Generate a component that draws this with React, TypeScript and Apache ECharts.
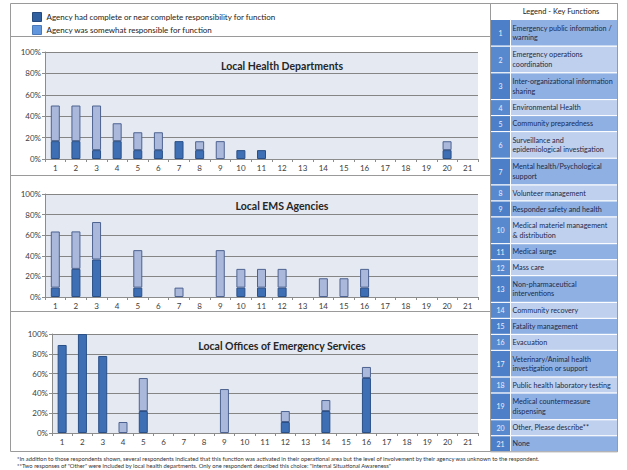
import React, { useEffect, useRef } from 'react';
import * as echarts from 'echarts';

const categories = ['1','2','3','4','5','6','7','8','9','10','11','12','13','14','15','16','17','18','19','20','21'];

const seriesComplete = 'Agency had complete or near complete responsibility for function';
const seriesSomewhat = 'Agency was somewhat responsible for function';

const panelTitles = ['Local Health Departments', 'Local EMS Agencies', 'Local Offices of Emergency Services'];

// Local Health Departments (%)
const lhdComplete = [16.7, 16.7, 8.3, 16.7, 8.3, 8.3, 16.7, 8.3, 0, 8.3, 8.3, 0, 0, 0, 0, 0, 0, 0, 0, 8.3, 0];
const lhdSomewhat = [33.3, 33.3, 41.7, 16.7, 16.7, 16.7, 0, 8.3, 16.7, 0, 0, 0, 0, 0, 0, 0, 0, 0, 0, 8.3, 0];

// Local EMS Agencies (%)
const emsComplete = [9.1, 27.3, 36.4, 0, 9.1, 0, 0, 0, 0, 9.1, 9.1, 9.1, 0, 0, 0, 9.1, 0, 0, 0, 0, 0];
const emsSomewhat = [54.5, 36.4, 36.4, 0, 36.4, 0, 9.1, 0, 45.5, 18.2, 18.2, 18.2, 0, 18.2, 18.2, 18.2, 0, 0, 0, 0, 0];

// Local Offices of Emergency Services (%)
const oesComplete = [88.9, 100, 77.8, 0, 22.2, 0, 0, 0, 0, 0, 0, 11.1, 0, 22.2, 0, 55.6, 0, 0, 0, 0, 0];
const oesSomewhat = [0, 0, 0, 11.1, 33.3, 0, 0, 0, 44.4, 0, 0, 11.1, 0, 11.1, 0, 11.1, 0, 0, 0, 0, 0];

const yTicks = [0, 20, 40, 60, 80, 100];

const keyFunctions = [
  'Emergency public information /\nwarning',
  'Emergency operations\ncoordination',
  'Inter-organizational information\nsharing',
  'Environmental Health',
  'Community preparedness',
  'Surveillance and\nepidemiological investigation',
  'Mental health/Psychological\nsupport',
  'Volunteer management',
  'Responder safety and health',
  'Medical materiel management\n& distribution',
  'Medical surge',
  'Mass care',
  'Non-pharmaceutical\ninterventions',
  'Community recovery',
  'Fatality management',
  'Evacuation',
  'Veterinary/Animal health\ninvestigation or support',
  'Public health laboratory testing',
  'Medical countermeasure\ndispensing',
  'Other, Please describe**',
  'None',
];

const footnotes = [
  '*In addition to those respondents shown, several respondents indicated that this function was activated in their operational area but the level of involvement by their agency was unknown to the respondent.',
  '**Two responses of "Other" were included by local health departments. Only one respondent described this choice: "Internal Situational Awareness"',
];

const FONT = 'Lato, "Open Sans", sans-serif';

export default function App() {
  const ref = useRef<HTMLDivElement>(null);

  useEffect(() => {
    document.body.style.margin = '0';
    if (!ref.current) return;
    const chart = echarts.init(ref.current, undefined, { renderer: 'svg' });

    const panels = [
      { complete: lhdComplete, somewhat: lhdSomewhat },
      { complete: emsComplete, somewhat: emsSomewhat },
      { complete: oesComplete, somewhat: oesSomewhat },
    ];
    const grids = [
      { left: 45, top: 52, width: 433, height: 107 },
      { left: 45, top: 194, width: 433, height: 103 },
      { left: 52, top: 334, width: 426, height: 99 },
    ];
    const titlePos = [66, 206, 346];

    const nz = (arr: number[]) => arr.map((v) => (v === 0 ? '-' : v));

    const series: any[] = [];
    panels.forEach((p, i) => {
      series.push({
        name: seriesComplete,
        type: 'bar',
        stack: 'p' + i,
        xAxisIndex: i,
        yAxisIndex: i,
        barWidth: 9,
        data: nz(p.complete),
        itemStyle: { color: '#3e6fb5', borderColor: '#2a4f86', borderWidth: 1 },
      });
      series.push({
        name: seriesSomewhat,
        type: 'bar',
        stack: 'p' + i,
        xAxisIndex: i,
        yAxisIndex: i,
        barWidth: 9,
        data: nz(p.somewhat),
        itemStyle: { color: '#aab9db', borderColor: '#4d6290', borderWidth: 1 },
      });
    });

    const graphics: any[] = [];
    graphics.push({ type: 'rect', shape: { x: 10.5, y: 3.5, width: 480, height: 448 }, style: { fill: 'none', stroke: '#9a9a9a', lineWidth: 1 }, z: -1 });
    [36.5, 175.5, 311.5].forEach((y) => {
      graphics.push({ type: 'line', shape: { x1: 10.5, y1: y, x2: 490.5, y2: y }, style: { stroke: '#9a9a9a', lineWidth: 1 }, z: -1 });
    });
    panelTitles.forEach((t, i) => {
      graphics.push({
        type: 'text', x: 282, y: titlePos[i],
        style: { text: t, fontFamily: FONT, fontSize: 10.5, fontWeight: 'bold', fill: '#262626', textAlign: 'center', textVerticalAlign: 'middle' },
        z: 10,
      });
    });

    const tx = 490, numW = 20, tw = 127;
    graphics.push({ type: 'rect', shape: { x: tx + 0.5, y: 3.5, width: tw, height: 16 }, style: { fill: '#ffffff', stroke: '#9a9a9a', lineWidth: 1 } });
    graphics.push({
      type: 'text', x: 561, y: 11.5,
      style: { text: 'Legend - Key Functions', fontFamily: FONT, fontSize: 7.5, fill: '#222', textAlign: 'center', textVerticalAlign: 'middle' },
    });
    let y = 19.5;
    keyFunctions.forEach((label, i) => {
      const lines = label.split('\n').length;
      const h = lines > 1 ? 26.7 : 16;
      const odd = i % 2 === 0;
      graphics.push({ type: 'rect', shape: { x: tx + 0.5, y, width: numW, height: h }, style: { fill: odd ? '#4c7fc8' : '#5889cf', stroke: '#ffffff', lineWidth: 1 } });
      graphics.push({ type: 'rect', shape: { x: tx + 0.5 + numW, y, width: tw - numW, height: h }, style: { fill: odd ? '#8fb0e3' : '#bfd0ee', stroke: '#ffffff', lineWidth: 1 } });
      graphics.push({
        type: 'text', x: tx + 10.5, y: y + h / 2,
        style: { text: String(i + 1), fontFamily: FONT, fontSize: 7, fill: '#e9effa', textAlign: 'center', textVerticalAlign: 'middle' },
      });
      graphics.push({
        type: 'text', x: tx + numW + 2.5, y: y + h / 2,
        style: { text: label, fontFamily: FONT, fontSize: 7.2, lineHeight: 9.5, fill: '#1c2a4a', textAlign: 'left', textVerticalAlign: 'middle' },
      });
      y += h;
    });
    graphics.push({ type: 'rect', shape: { x: tx + 0.5, y: 3.5, width: tw, height: y - 3.5 }, style: { fill: 'none', stroke: '#9a9a9a', lineWidth: 1 } });

    footnotes.forEach((f, i) => {
      graphics.push({
        type: 'text', x: 17, y: 458 + i * 7,
        style: { text: f, fontFamily: FONT, fontSize: 5.8, fill: '#333', textAlign: 'left', textVerticalAlign: 'middle' },
      });
    });

    const option: any = {
      animation: false,
      backgroundColor: '#ffffff',
      textStyle: { fontFamily: FONT },
      legend: {
        left: 27, top: 7, orient: 'vertical', itemGap: 3, itemWidth: 9, itemHeight: 9, icon: 'rect',
        selectedMode: false,
        textStyle: { fontSize: 8, color: '#222', fontFamily: FONT },
        data: [
          { name: seriesComplete, itemStyle: { color: '#30609f', borderColor: '#244a7e', borderWidth: 1 } },
          { name: seriesSomewhat, itemStyle: { color: '#6196dd', borderColor: '#4a78b8', borderWidth: 1 } },
        ],
      },
      grid: grids.map((g) => ({ ...g, show: true, backgroundColor: '#e4e9f2', borderWidth: 0, containLabel: false })),
      xAxis: grids.map((_, i) => ({
        type: 'category', gridIndex: i, data: categories,
        axisLine: { lineStyle: { color: '#8c8c8c' } },
        axisTick: { show: true, length: 3, lineStyle: { color: '#8c8c8c' } },
        axisLabel: { fontSize: 8, color: '#404040', margin: 5, fontFamily: FONT },
      })),
      yAxis: grids.map((_, i) => ({
        type: 'value', gridIndex: i, min: yTicks[0], max: yTicks[yTicks.length - 1], interval: yTicks[1] - yTicks[0],
        axisLine: { show: true, lineStyle: { color: '#8c8c8c' } },
        axisTick: { show: true, length: 3, lineStyle: { color: '#8c8c8c' } },
        axisLabel: { formatter: '{value}%', fontSize: 8, color: '#404040', margin: 4, fontFamily: FONT },
        splitLine: { show: true, lineStyle: { color: '#858585', width: 1 } },
      })),
      series,
      graphic: graphics,
    };
    chart.setOption(option);
    return () => chart.dispose();
  }, []);

  return <div ref={ref} style={{ position: 'absolute', left: 0, top: 0, width: 627, height: 470 }} />;
}
